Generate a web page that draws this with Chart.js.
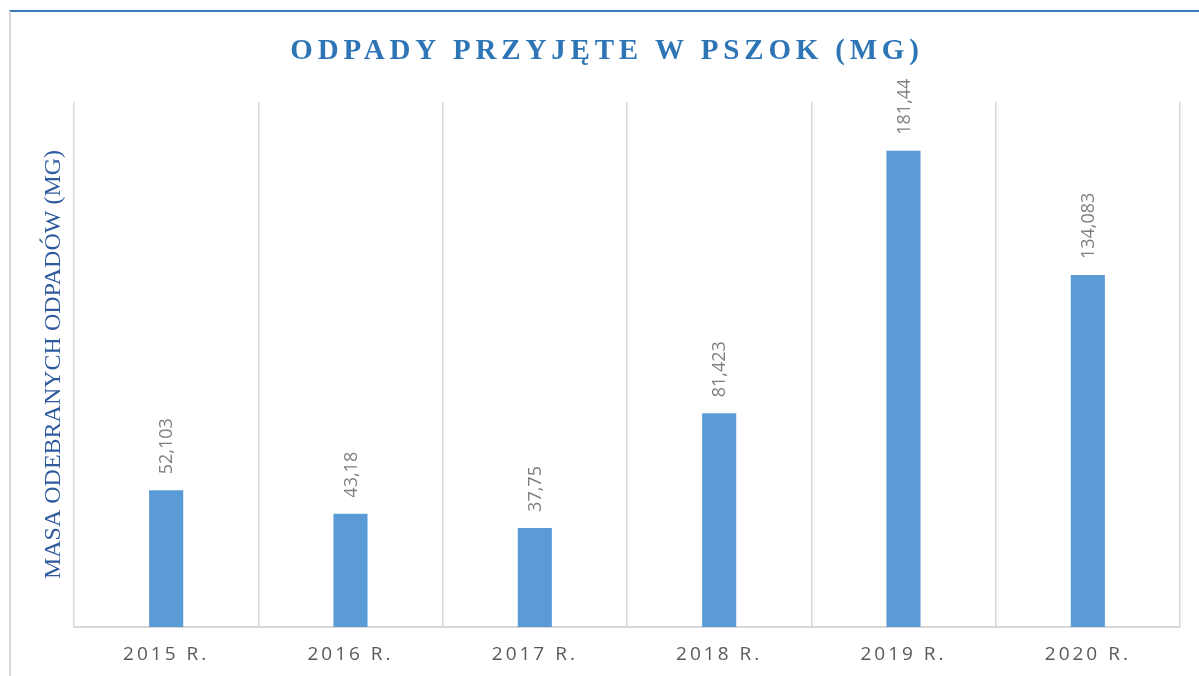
<!DOCTYPE html>
<html>
<head>
<meta charset="utf-8">
<script src="https://cdn.jsdelivr.net/npm/chart.js@4/dist/chart.umd.min.js"></script>
<style>
  html, body { margin: 0; padding: 0; background: #ffffff; }
  #wrap { position: relative; width: 1199px; height: 676px; overflow: hidden; }
  #frame { position: absolute; left: 9px; top: 10px; right: -4px; bottom: -4px;
           border-top: 2px solid #3A78B8; border-left: 2px solid #D9D9D9; }
  canvas { position: absolute; left: 0; top: 0; }
</style>
</head>
<body>
<div id="wrap">
  <div id="frame"></div>
  <canvas id="c" width="1199" height="676"></canvas>
</div>
<script>
const categories = ['2015 R.', '2016 R.', '2017 R.', '2018 R.', '2019 R.', '2020 R.'];
const values = [52.103, 43.18, 37.75, 81.423, 181.44, 134.083];
const valueLabels = ['52,103', '43,18', '37,75', '81,423', '181,44', '134,083'];
const chartTitle = 'ODPADY PRZYJĘTE W PSZOK (MG)';
const yTitle = 'MASA ODEBRANYCH ODPADÓW (MG)';

function withSpacing(obj, method, spacing, dx) {
  if (!obj || obj['__sp_' + method]) return;
  const orig = obj[method].bind(obj);
  obj[method] = function (...args) {
    const ctx = this.ctx || obj.ctx;
    ctx.save();
    try { ctx.letterSpacing = spacing; } catch (e) {}
    if (dx) ctx.translate(dx, 0);
    orig(...args);
    ctx.restore();
  };
  obj['__sp_' + method] = true;
}

const spacingPlugin = {
  id: 'spacing',
  beforeDraw(chart) {
    withSpacing(chart.scales.x, 'drawLabels', '3px', 0);
    if (chart.titleBlock) withSpacing(chart.titleBlock, 'draw', '4.8px', 17);
  }
};

const valueLabelPlugin = {
  id: 'valueLabels',
  afterDatasetsDraw(chart) {
    const ctx = chart.ctx;
    const meta = chart.getDatasetMeta(0);
    ctx.save();
    ctx.font = '18px "Open Sans", "Liberation Sans", sans-serif';
    ctx.fillStyle = '#7F7F7F';
    ctx.textAlign = 'left';
    ctx.textBaseline = 'middle';
    meta.data.forEach((bar, i) => {
      ctx.save();
      ctx.translate(bar.x, bar.y - 16);
      ctx.rotate(-Math.PI / 2);
      ctx.fillText(valueLabels[i], 0, 1);
      ctx.restore();
    });
    ctx.restore();
  }
};

new Chart(document.getElementById('c'), {
  type: 'bar',
  data: {
    labels: categories,
    datasets: [{
      data: values,
      backgroundColor: '#5B9BD5',
      borderWidth: 0,
      categoryPercentage: 1,
      barPercentage: 0.185
    }]
  },
  options: {
    responsive: false,
    animation: false,
    devicePixelRatio: 1,
    layout: { padding: { left: 0, right: 19, top: 0, bottom: 10 } },
    plugins: {
      legend: { display: false },
      tooltip: { enabled: false },
      title: {
        display: true,
        text: chartTitle,
        color: '#2E75B6',
        font: { family: '"Liberation Serif", "DejaVu Serif", serif', size: 29, weight: 'bold', lineHeight: 1.2 },
        padding: { top: 34.5, bottom: 32.7 }
      }
    },
    scales: {
      x: {
        grid: { display: true, offset: true, color: '#D9D9D9', lineWidth: 1.5, drawTicks: false },
        border: { display: true, color: '#D9D9D9', width: 2 },
        ticks: {
          color: '#595959',
          font: { family: '"Open Sans", "Liberation Sans", sans-serif', size: 19, lineHeight: 1.2 },
          padding: 16,
          maxRotation: 0,
          autoSkip: false
        },
        afterFit(scale) { scale.height = 39; }
      },
      y: {
        min: 0,
        max: 200,
        grid: { display: false },
        border: { display: false },
        ticks: { display: false },
        title: {
          display: true,
          text: yTitle,
          color: '#2F5A9E',
          font: { family: '"Liberation Serif", "DejaVu Serif", serif', size: 24, lineHeight: 1.2 },
          padding: { top: 39.6, bottom: 5.6 }
        },
        afterFit(scale) { scale.width = 74; }
      }
    }
  },
  plugins: [spacingPlugin, valueLabelPlugin]
});
</script>
</body>
</html>
